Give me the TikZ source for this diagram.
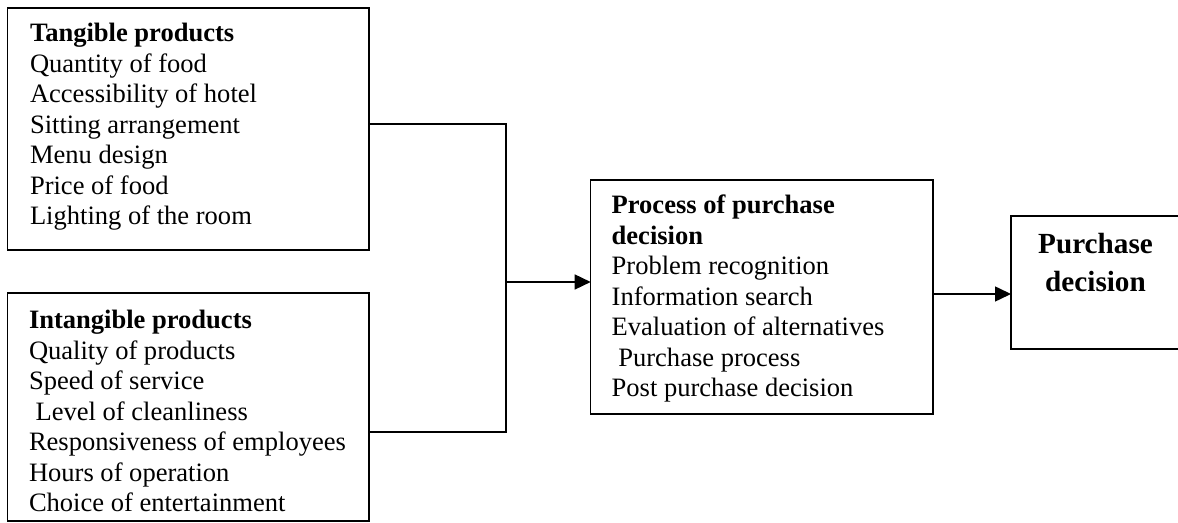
\documentclass[tikz,border=0pt]{standalone}
\usepackage{fontspec}
\setmainfont{Liberation Serif}
\usetikzlibrary{arrows.meta}
\begin{document}
\begin{tikzpicture}[x=0.5pt,y=-0.5pt,
  box/.style={draw=black, line width=0.75pt, rectangle, anchor=north west, inner sep=0pt, outer sep=0pt},
  txt/.style={inner sep=0pt, outer sep=0pt, anchor=base west, font=\fontsize{13.27pt}{15.25pt}\selectfont},
  big/.style={inner sep=0pt, outer sep=0pt, anchor=base, font=\fontsize{14.6pt}{19pt}\selectfont\bfseries},
  link/.style={line width=0.75pt, black},
  arr/.style={link, -{Triangle[length=8pt,width=7.5pt]}}]
\fill[white] (0,0) rectangle (1178,523);
\useasboundingbox (0,0) rectangle (1178,523);
% boxes
\node[box, minimum width=180.75pt, minimum height=121pt] (b1) at (7.5,8) {};
\node[box, minimum width=180.75pt, minimum height=114pt] (b2) at (7.5,293) {};
\node[box, minimum width=171.15pt, minimum height=117pt] (b3) at (590.7,180) {};
\node[box, minimum width=86pt, minimum height=66.5pt] (b4) at (1011,216) {};
% texts
\node[txt] (t1) at (30,42) {\begin{tabular}[t]{@{}l@{}}
\textbf{Tangible products}\\
Quantity of food\\
Accessibility of hotel\\
Sitting arrangement\\
Menu design\\
Price of food\\
Lighting of the room
\end{tabular}};
\node[txt] (t2) at (29,329) {\begin{tabular}[t]{@{}l@{}}
\textbf{Intangible products}\\
Quality of products\\
Speed of service\\
\ Level of cleanliness\\
Responsiveness of employees\\
Hours of operation\\
Choice of entertainment
\end{tabular}};
\node[txt] (t3) at (611.7,214) {\begin{tabular}[t]{@{}l@{}}
\textbf{Process of purchase}\\
\textbf{decision}\\
Problem recognition\\
Information search\\
Evaluation of alternatives\\
\ Purchase process\\
Post purchase decision
\end{tabular}};
\node[big] (t4) at (1095.5,254) {\begin{tabular}[t]{@{}c@{}}
Purchase\\
decision
\end{tabular}};
% connectors
\coordinate (jt) at (506,124);
\coordinate (jb) at (506,432);
\coordinate (jm) at (506,282);
\coordinate (a2) at (933,294);
\draw[link] (b1.east |- jt) -- (jt) -- (jb) -- (b2.east |- jb);
\draw[arr] (jm) -- (b3.west |- jm);
\draw[arr] (b3.east |- a2) -- (b4.west |- a2);
\end{tikzpicture}
\end{document}
